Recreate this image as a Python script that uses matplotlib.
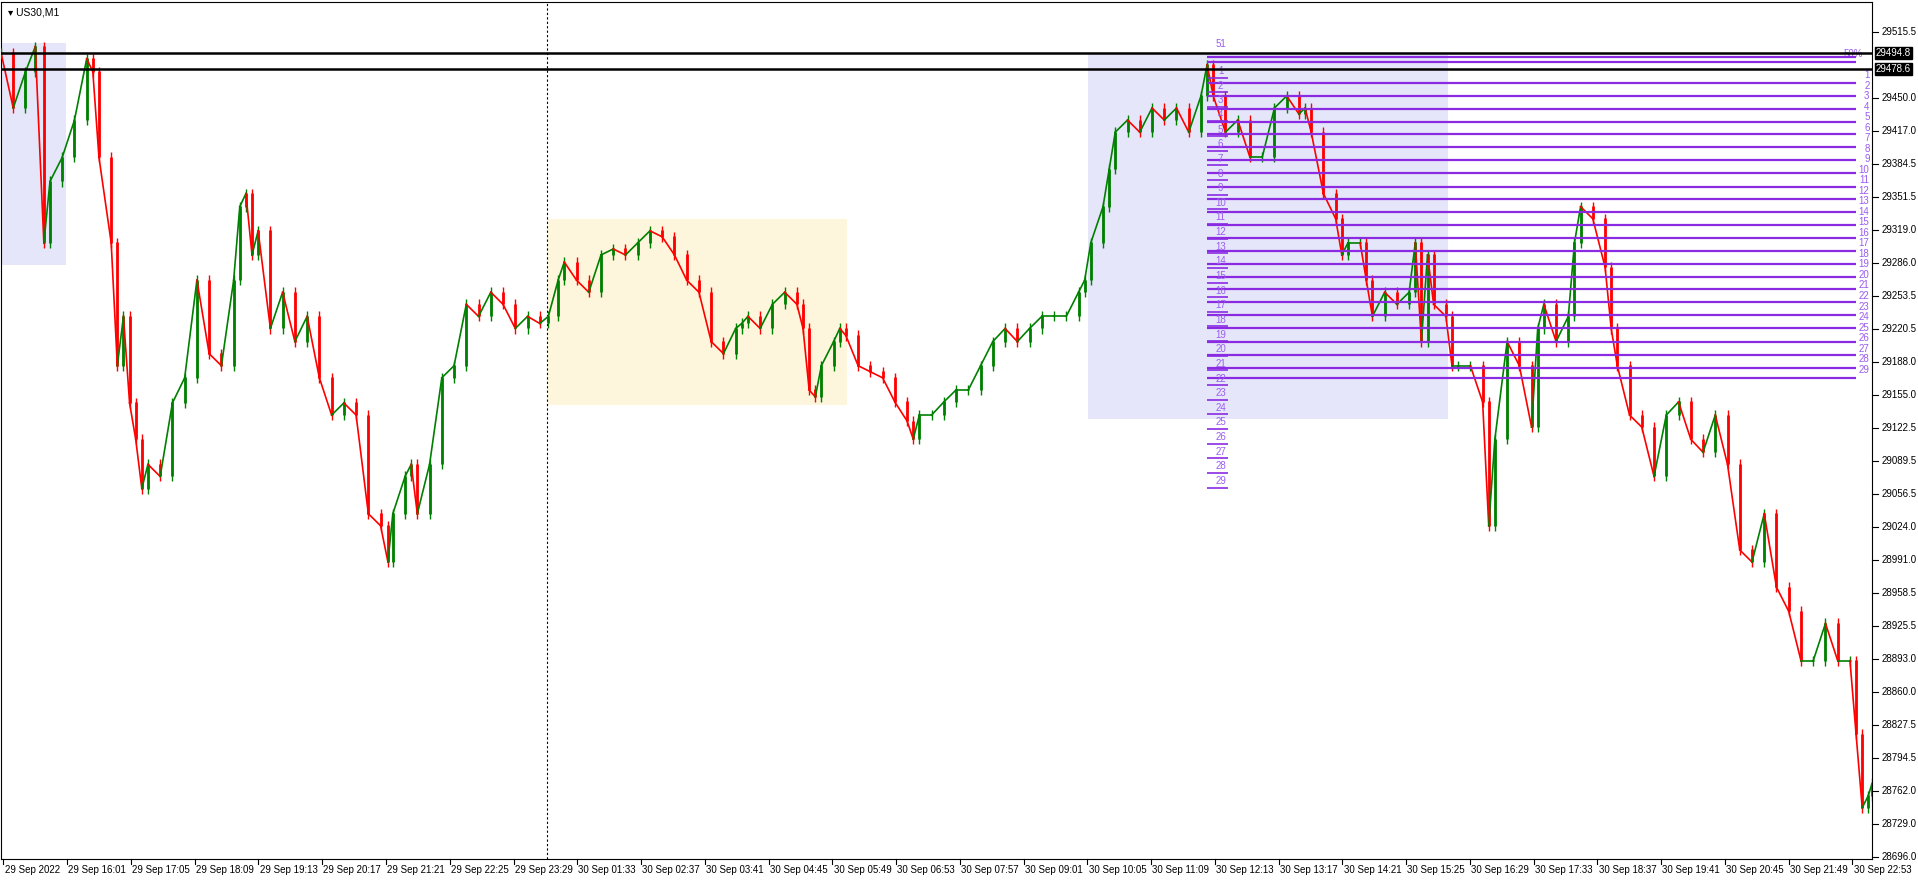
import matplotlib
matplotlib.use("Agg")
import matplotlib.pyplot as plt
from matplotlib.patches import Rectangle

plt.rcParams['font.family'] = ['Liberation Sans', 'DejaVu Sans']

# ---- data ----
bar_x = [0,10,20,28,35,40,50,60,70,75,80,90,95,100,105,110,115,120,130,140,150,160,170,180,190,195,200,205,210,220,230,240,250,260,270,280,290,300,310,316,320,330,335,340,350,360,370,380,390,400,410,420,430,440,447,455,460,470,480,490,500,510,520,530,540,550,560,570,580,590,600,605,610,620,630,640,650,655,660,665,670,680,685,690,700,710,720,730,740,745,750,760,770,780,790,800,810,820,830,840,850,860,870,880,885,890,900,905,910,920,930,940,950,960,970,980,985,990,1000,1010,1020,1030,1040,1050,1060,1065,1070,1080,1090,1095,1100,1110,1115,1120,1130,1140,1150,1155,1160,1165,1170,1180,1185,1190,1200,1210,1215,1220,1230,1240,1250,1255,1260,1270,1280,1285,1290,1300,1310,1315,1320,1330,1340,1350,1360,1370,1380,1390,1400,1410,1420,1430,1440,1450,1460,1470,1480,1490,1500,1510,1515,1520,1525,1528]
close = [29495,29440,29476,29501,29306,29367,29391,29428,29489,29476,29391,29306,29184,29233,29147,29111,29062,29086,29074,29147,29172,29269,29196,29184,29269,29342,29355,29294,29318,29221,29257,29208,29233,29172,29135,29147,29135,29037,29025,28989,29037,29074,29086,29037,29086,29172,29184,29245,29233,29257,29245,29221,29233,29226,29233,29269,29287,29269,29257,29294,29300,29294,29306,29318,29312,29294,29269,29257,29208,29196,29221,29226,29233,29221,29245,29257,29245,29221,29160,29153,29184,29208,29221,29214,29184,29178,29172,29148,29129,29111,29135,29135,29148,29160,29160,29184,29208,29221,29208,29221,29233,29233,29233,29257,29269,29306,29342,29379,29416,29428,29416,29440,29428,29440,29416,29452,29483,29452,29416,29428,29391,29391,29440,29452,29434,29440,29416,29355,29330,29294,29306,29306,29269,29233,29257,29245,29257,29306,29208,29294,29245,29233,29184,29184,29184,29148,29025,29111,29208,29184,29123,29221,29245,29208,29233,29306,29342,29330,29282,29221,29184,29135,29123,29074,29135,29148,29111,29098,29135,29086,29001,28989,29037,28964,28940,28891,28891,28928,28891,28891,28818,28745,28757,28769]
time_labels = ["29 Sep 2022","29 Sep 16:01","29 Sep 17:05","29 Sep 18:09","29 Sep 19:13","29 Sep 20:17","29 Sep 21:21","29 Sep 22:25","29 Sep 23:29","30 Sep 01:33","30 Sep 02:37","30 Sep 03:41","30 Sep 04:45","30 Sep 05:49","30 Sep 06:53","30 Sep 07:57","30 Sep 09:01","30 Sep 10:05","30 Sep 11:09","30 Sep 12:13","30 Sep 13:17","30 Sep 14:21","30 Sep 15:25","30 Sep 16:29","30 Sep 17:33","30 Sep 18:37","30 Sep 19:41","30 Sep 20:45","30 Sep 21:49","30 Sep 22:53"]
price_ticks = [29515.5,29450.0,29417.0,29384.5,29351.5,29319.0,29286.0,29253.5,29220.5,29188.0,29155.0,29122.5,29089.5,29056.5,29024.0,28991.0,28958.5,28925.5,28893.0,28860.0,28827.5,28794.5,28762.0,28729.0,28696.0]
hline_prices = [29494.8, 29478.6]
grid_levels = [29491,29486,29465,29452,29439,29426,29414,29401,29388,29375,29362,29350,29337,29324,29311,29298,29285,29272,29260,29247,29234,29221,29208,29195,29182,29172]
fib_labels = [str(i) for i in range(1, 30)]

FW, FH = 1918.0, 880.0
fig = plt.figure(figsize=(19.18, 8.80), dpi=100)
ax = fig.add_axes([1/FW, 1 - 859/FH, 1871/FW, 857/FH])
ppx = 1.2195
ymax = 29545.3
ymin = 28694.0
ax.set_xlim(0, 1528)
ax.set_ylim(ymin, ymax)
def py(y):
    return 29549.6 - ppx*y

PURPLE = "#8a2be2"
LBL = "#9a5cf0"
FS = 7

ax.add_patch(Rectangle((0, py(218)), 53, py(37)-py(218), color="#e6e6fa", zorder=0, lw=0))
ax.add_patch(Rectangle((447, py(332)), 244, py(180)-py(332), color="#fdf5dc", zorder=0, lw=0))
ax.add_patch(Rectangle((888, py(343)), 294, py(45)-py(343), color="#e6e6fa", zorder=0, lw=0))
ax.axvline(446, color="black", ls=(0, (2, 2)), lw=0.8, zorder=1)

prev = close[0]
for i in range(len(close)):
    x = bar_x[i]
    c = close[i]
    o = prev
    col = "green" if c >= o else "red"
    ax.vlines(x, min(o, c) - 5, max(o, c) + 5, color=col, lw=1, zorder=3)
    ax.vlines(x, min(o, c), max(o, c) + 0.5, color=col, lw=2, zorder=3)
    if i + 1 < len(close):
        ax.plot([x, bar_x[i+1]], [c, close[i+1]],
                color=("green" if close[i+1] >= c else "red"), lw=1.2, zorder=3)
    prev = c

for lv in grid_levels:
    ax.hlines(lv, 985, 1515, color=PURPLE, lw=1.6, zorder=4)
for k, lab in enumerate(fib_labels):
    yl = py(63 + k*(397-63)/28)
    ax.hlines(yl - 2.5, 985, 1002, color=PURPLE, lw=1.2, zorder=4)
    ax.text(996, yl - 1, lab, color=LBL, fontsize=FS, ha="center", va="bottom", zorder=5)
    yr = py(63 + k*(303-63)/28)
    ax.text(1526, yr, lab, color=LBL, fontsize=FS, ha="right", va="center", zorder=5)
ax.text(996, py(38), "51", color=LBL, fontsize=FS, ha="center", va="center")
ax.text(1521, py(46), "50%", color=LBL, fontsize=FS, ha="right", va="center")

for hp in hline_prices:
    ax.axhline(hp, color="black", lw=1.8, zorder=6)

ax.set_xticks([])
ax.set_yticks([])

def yfrac(p):
    return (p - ymin)/(ymax - ymin)

for p in price_ticks:
    yf = yfrac(p)
    ax.plot([1.0, 1.003], [yf, yf], transform=ax.transAxes, color="black", lw=0.8, clip_on=False)
    ax.text(1.005, yf, f"{p:.1f}", transform=ax.transAxes, fontsize=FS, va="center", ha="left")
for hp in hline_prices:
    ax.text(1.002, yfrac(hp), f"{hp:.1f}", transform=ax.transAxes,
            fontsize=FS, va="center", ha="left", color="white",
            bbox=dict(boxstyle="square,pad=0.1", fc="black", ec="black"))

for k, lab in enumerate(time_labels):
    x = 2 + k*52.07
    ax.plot([x, x], [0, -0.006], transform=ax.get_xaxis_transform(), color="black", lw=0.8, clip_on=False)
    ax.text(x + 1, -0.007, lab, transform=ax.get_xaxis_transform(), fontsize=FS, va="top", ha="left")

ax.text(0.004, 0.993, "\u25be US30,M1", transform=ax.transAxes, fontsize=7.5, va="top", ha="left",
        family=['Liberation Sans', 'DejaVu Sans'])

fig.savefig("out.png", dpi=100, facecolor="white")
